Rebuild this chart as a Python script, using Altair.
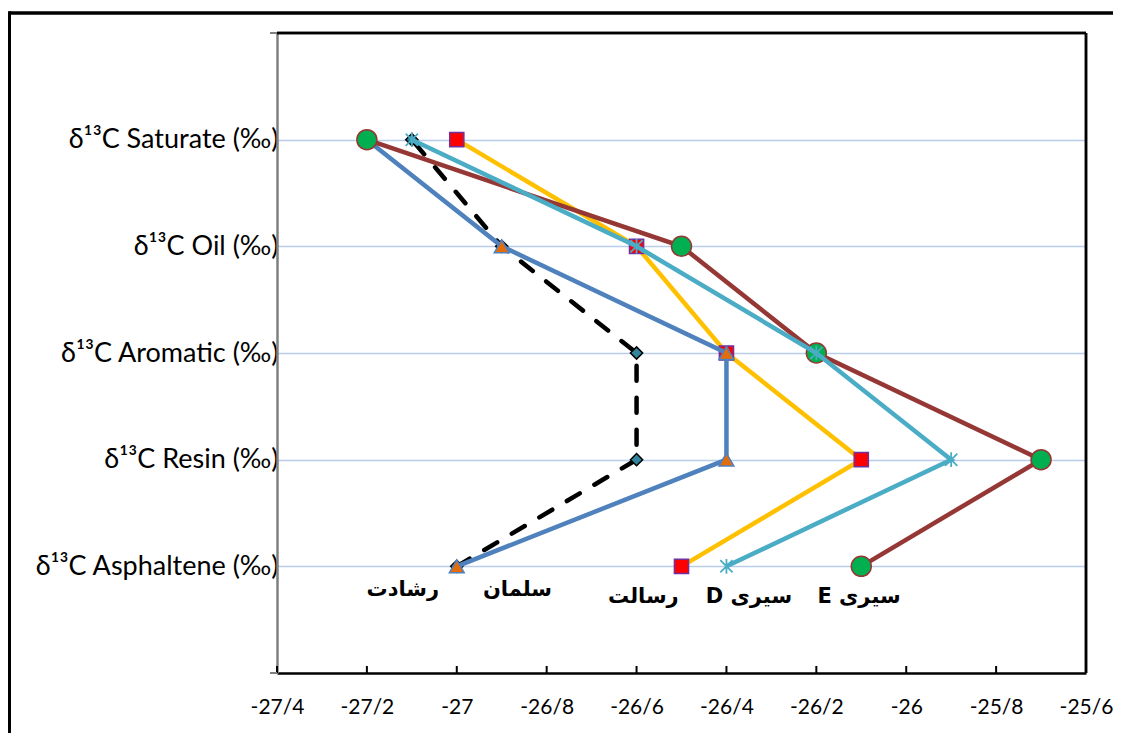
import json
import altair as alt
import pandas as pd

# ---------------- data ----------------
categories = ["δ¹³C Saturate (‰)", "δ¹³C Oil (‰)", "δ¹³C Aromatic (‰)",
              "δ¹³C Resin (‰)", "δ¹³C Asphaltene (‰)"]
cat_pos = [5, 4, 3, 2, 1]

rashadat = [-27.1, -26.9, -26.6, -26.6, -27.0]
salman = [-27.2, -26.9, -26.4, -26.4, -27.0]
rasalt = [-27.0, -26.6, -26.4, -26.1, -26.5]
siri_d = [-27.1, -26.6, -26.2, -25.9, -26.4]
siri_e = [-27.2, -26.5, -26.2, -25.7, -26.1]

label_text = ["رشادت", "سلمان", "رسالت", "D سیری", "E سیری"]
label_x = [-27.12, -26.865, -26.585, -26.35, -26.105]
label_y = [0.78, 0.78, 0.71, 0.71, 0.71]

x_ticks = [-27.4, -27.2, -27.0, -26.8, -26.6, -26.4, -26.2, -26.0, -25.8, -25.6]
y_edges = [0, 6]

W, H = 809, 640

# ---------------- encodings ----------------
y_label_array = json.dumps([""] + categories[::-1] + [""], ensure_ascii=False)

x_enc = alt.X(
    "val:Q",
    scale=alt.Scale(domain=[-27.4, -25.6], nice=False, zero=False),
    axis=alt.Axis(
        values=x_ticks, title=None, grid=False, ticks=False, tickSize=0,
        domainColor="black", domainWidth=2.5,
        labelFont="Lato", labelFontSize=21, labelColor="black",
        labelBaseline="middle", labelPadding=34, labelFlush=False,
        labelExpr="(datum.value < 0 ? '-' : '') + replace(format(abs(datum.value), "
                  "(abs(datum.value) % 1 < 0.01 || abs(datum.value) % 1 > 0.99) ? 'd' : '.1f'), '.', '/')",
    ),
)
y_enc = alt.Y(
    "pos:Q",
    scale=alt.Scale(domain=[0, 6], nice=False, zero=False),
    axis=alt.Axis(
        values=[1, 2, 3, 4, 5], title=None, grid=True, gridColor="#b9cdeb",
        gridWidth=1.5, ticks=False, tickSize=0, domainColor="#808080",
        domainWidth=2.5, labelFont="Lato", labelFontSize=27, labelColor="black",
        labelBaseline="middle", labelPadding=-1, labelLimit=400,
        labelExpr=y_label_array + "[datum.value]",
    ),
)


def series(values, color, dash, shape, fill, stroke, size, filled=True, sw=1.5):
    d = pd.DataFrame({"pos": cat_pos, "val": values})
    base = alt.Chart(d)
    line_kwargs = dict(color=color, strokeWidth=4.5)
    if dash:
        line_kwargs.update(strokeDash=dash, strokeCap="round")
    line = base.mark_line(**line_kwargs).encode(x=x_enc, y=y_enc, order="pos:Q")
    pt_kwargs = dict(shape=shape, filled=filled, stroke=stroke,
                     strokeWidth=sw, size=size, opacity=1)
    if filled:
        pt_kwargs.update(fill=fill, fillOpacity=1)
    pts = base.mark_point(**pt_kwargs).encode(x=x_enc, y=y_enc)
    return [line, pts]


layers = []
layers += series(rashadat, "black", [15, 17], "diamond", "#31849b", "black", 150)
layers += series(rasalt, "#ffc000", None, "square", "#ff0000", "#7030a0", 200)
layers += series(salman, "#4f81bd", None, "triangle-up", "#e46c0a", "#4f81bd", 220)
layers += series(siri_e, "#953735", None, "circle", "#00b050", "#953735", 400)
layers += series(siri_d, "#4bacc6", None,
                 "M-1,-1L1,1M-1,1L1,-1M0,-1.2L0,1.2", None, "#4bacc6", 150,
                 filled=False, sw=1.8)

# inward x ticks
tick_df = pd.DataFrame({"val": x_ticks})
x_tick_rules = alt.Chart(tick_df).mark_rule(color="black", strokeWidth=2).encode(
    x=x_enc, y=alt.value(H), y2=alt.value(H - 7),
)
# gray ticks at the ends of the y axis
edge_df = pd.DataFrame({"pos": y_edges})
y_edge_rules = alt.Chart(edge_df).mark_rule(color="#808080", strokeWidth=2).encode(
    y=y_enc, x=alt.value(-7), x2=alt.value(0),
)

# plot frame (top and right)
frame_top = alt.Chart(edge_df).mark_rule(color="black", strokeWidth=2.5).encode(
    x=alt.value(0), x2=alt.value(W), y=alt.value(0))
frame_right = alt.Chart(edge_df).mark_rule(color="black", strokeWidth=2.5).encode(
    x=alt.value(W), y=alt.value(0), y2=alt.value(H))

# outer chart border
outer_top = alt.Chart(edge_df).mark_rule(color="black", strokeWidth=3).encode(
    x=alt.value(-268), x2=alt.value(W + 40), y=alt.value(-20))
outer_left = alt.Chart(edge_df).mark_rule(color="black", strokeWidth=3).encode(
    x=alt.value(-267.5), y=alt.value(-21.5), y2=alt.value(H + 60))

# series name labels
lab_df = pd.DataFrame({"txt": label_text, "val": label_x, "pos": label_y})
labels = alt.Chart(lab_df).mark_text(
    font="DejaVu Sans", fontSize=21, fontWeight="bold", color="black",
    align="center", baseline="middle",
).encode(x=x_enc, y=y_enc, text="txt:N")

chart = alt.layer(
    *layers, x_tick_rules, y_edge_rules, frame_top, frame_right,
    labels, outer_top, outer_left,
).properties(
    width=W, height=H,
    padding={"left": 269, "top": 25, "right": 27, "bottom": 60},
    autosize=alt.AutoSizeParams(type="none"),
).configure_view(stroke=None)

chart.save("out.html", embed_options={"renderer": "svg", "actions": False})
